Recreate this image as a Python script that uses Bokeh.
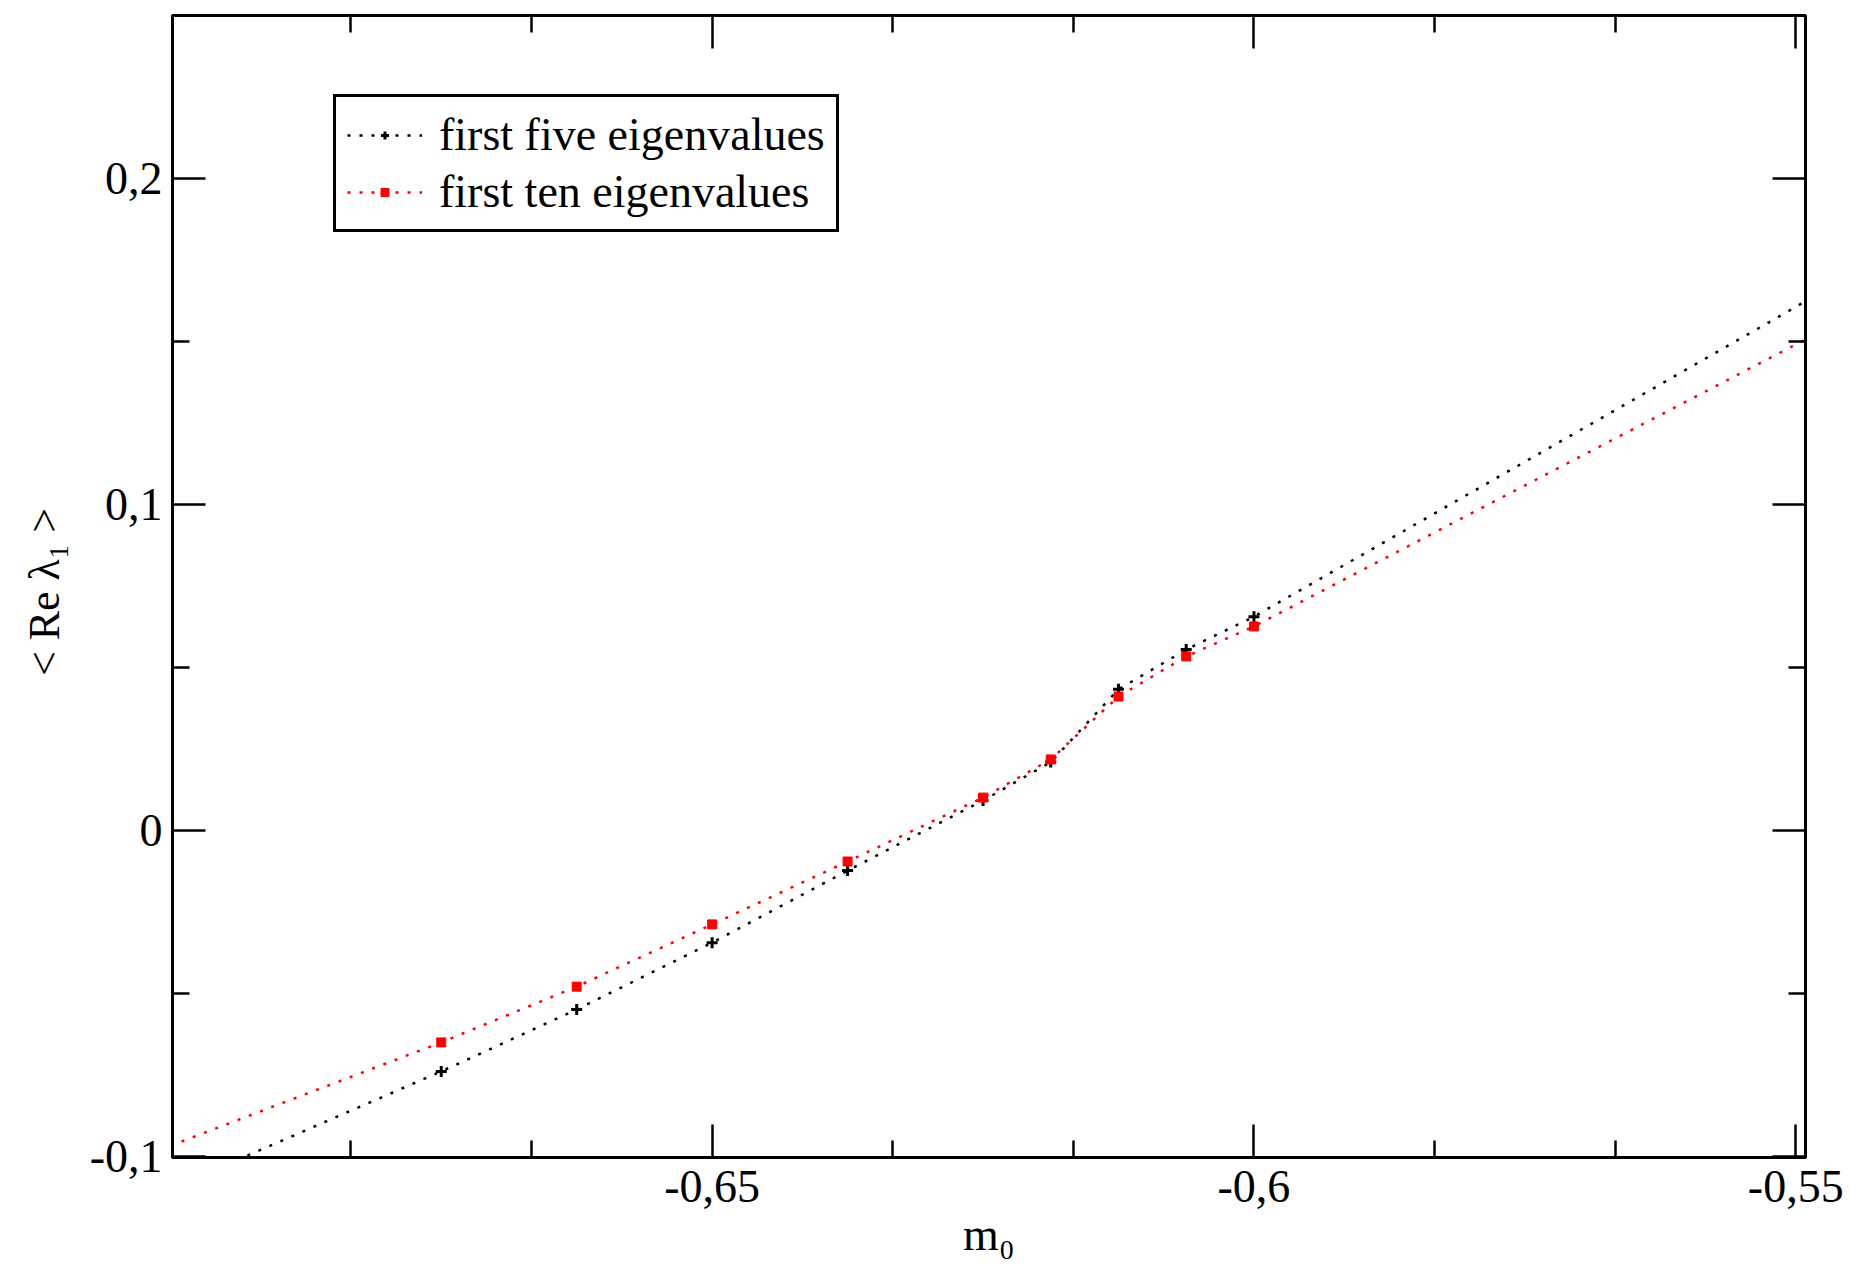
from bokeh.plotting import figure
from bokeh.models import Range1d, FixedTicker, LinearAxis, Legend, LegendItem
from bokeh.embed import file_html
from bokeh.resources import INLINE

# data
m0 = [-0.675, -0.6625, -0.65, -0.6375, -0.625, -0.61875, -0.6125, -0.60625, -0.6]
five_eig = [-0.0739, -0.0549, -0.0344, -0.0123, 0.0092, 0.021, 0.0433, 0.0555, 0.0656]
ten_eig = [-0.065, -0.0479, -0.0288, -0.0095, 0.0101, 0.0218, 0.0411, 0.0534, 0.0626]
# dotted lines extend beyond the points to the plot edges
line_x = [-0.7] + m0 + [-0.549]
five_line = [-0.110] + five_eig + [0.1625]
ten_line = [-0.0967] + ten_eig + [0.1508]

x_major = [-0.65, -0.6, -0.55]
x_minor = [-0.68333, -0.66667, -0.63333, -0.61667, -0.58333, -0.56667]
x_labels = ["-0,65", "-0,6", "-0,55"]
y_major = [-0.1, 0.0, 0.1, 0.2]
y_minor = [-0.05, 0.05, 0.15, 0.25]
y_labels = ["-0,1", "0", "0,1", "0,2"]

FONT = "Liberation Serif"
FS = "46px"

p = figure(width=1851, height=1277, output_backend="svg", toolbar_location=None,
           x_range=Range1d(-0.6998, -0.5491), y_range=Range1d(-0.1003, 0.25),
           min_border_left=172, min_border_right=46, min_border_top=15, min_border_bottom=120,
           x_axis_location=None, y_axis_location=None)
p.grid.visible = False
p.outline_line_color = "black"
p.outline_line_alpha = 1
p.outline_line_width = 3
p.background_fill_color = "white"
p.border_fill_color = "white"

def style_axis(ax, major, minor, labels, show):
    ax.ticker = FixedTicker(ticks=major, minor_ticks=minor)
    ax.major_tick_in = 33
    ax.major_tick_out = 0
    ax.minor_tick_in = 17
    ax.minor_tick_out = 0
    ax.major_tick_line_width = 2.5
    ax.minor_tick_line_width = 2.5
    ax.major_tick_line_color = "black"
    ax.minor_tick_line_color = "black"
    ax.axis_line_color = "black"
    ax.axis_line_width = 3
    if show:
        ax.major_label_overrides = {t: l for t, l in zip(major, labels)}
        ax.major_label_text_font = FONT
        ax.major_label_text_font_size = FS
        ax.major_label_text_color = "black"
    else:
        ax.major_label_overrides = {t: "" for t in major}
        ax.major_label_text_font_size = "0px"
        ax.major_label_standoff = 0

xb = LinearAxis()
style_axis(xb, x_major, x_minor, x_labels, True)
xb.major_label_standoff = 13
xb.axis_label = "m\u2080"
xb.axis_label_text_font = FONT
xb.axis_label_text_font_size = FS
xb.axis_label_text_font_style = "normal"
xb.axis_label_text_color = "black"
xb.axis_label_standoff = 4
p.add_layout(xb, "below")

yl = LinearAxis()
style_axis(yl, y_major, y_minor, y_labels, True)
yl.major_label_standoff = 10
yl.axis_label = "< Re  \u03bb\u2081 >"
yl.axis_label_text_font = FONT
yl.axis_label_text_font_size = "44px"
yl.axis_label_text_font_style = "normal"
yl.axis_label_text_color = "black"
yl.axis_label_standoff = 18
p.add_layout(yl, "left")

xt = LinearAxis()
style_axis(xt, x_major, x_minor, x_labels, False)
p.add_layout(xt, "above")

yr = LinearAxis()
style_axis(yr, y_major, y_minor, y_labels, False)
p.add_layout(yr, "right")

l1 = p.line(line_x, five_line, line_color="black", line_width=2.5, line_dash="3 9")
m1 = p.scatter(m0, five_eig, marker="cross", size=11, line_color="black", line_width=3)
l2 = p.line(line_x, ten_line, line_color="red", line_width=2.5, line_dash="3 9")
m2 = p.scatter(m0, ten_eig, marker="square", size=9, fill_color="red", line_color="red")

legend = Legend(items=[LegendItem(label="first five eigenvalues", renderers=[l1, m1]),
                       LegendItem(label="first ten eigenvalues", renderers=[l2, m2])],
                location=(161, 925))
legend.label_text_font = FONT
legend.label_text_font_size = FS
legend.label_text_color = "black"
legend.glyph_width = 75
legend.glyph_height = 20
legend.label_standoff = 17
legend.padding = 11
legend.spacing = 4
legend.margin = 0
legend.border_line_color = "black"
legend.border_line_alpha = 1
legend.border_line_width = 3
legend.background_fill_alpha = 1
p.add_layout(legend, "center")

open("out.html", "w").write(file_html(p, INLINE))
